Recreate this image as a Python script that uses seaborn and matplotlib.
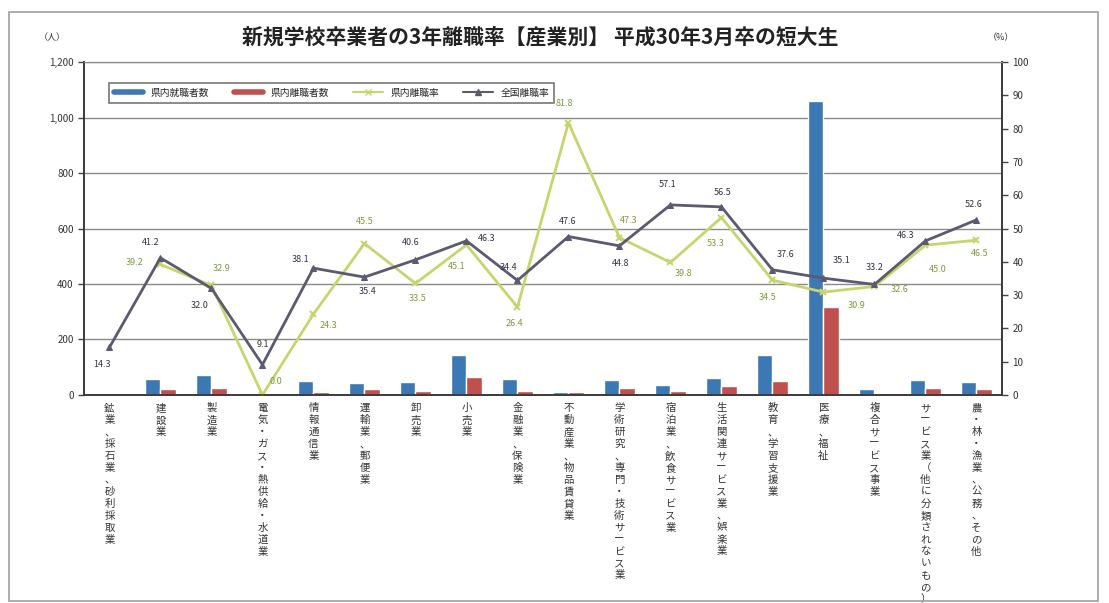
import numpy as np
import pandas as pd
import matplotlib
matplotlib.use("Agg")
import matplotlib.pyplot as plt
from matplotlib.patches import Rectangle
from matplotlib.lines import Line2D
import seaborn as sns

# ---- data -------------------------------------------------------------
industries = [
    "鉱業、採石業、砂利採取業", "建設業", "製造業", "電気・ガス・熱供給・水道業",
    "情報通信業", "運輸業、郵便業", "卸売業", "小売業", "金融業、保険業",
    "不動産業、物品賃貸業", "学術研究、専門・技術サービス業", "宿泊業、飲食サービス業",
    "生活関連サービス業、娯楽業", "教育、学習支援業", "医療、福祉", "複合サービス事業",
    "サービス業（他に分類されないもの）", "農・林・漁業、公務、その他",
]
employed = [0, 57, 73, 2, 50, 44, 45, 144, 57, 11, 53, 36, 62, 145, 1058, 20, 55, 48]
separated = [0, 23, 24, 0, 12, 20, 15, 65, 15, 9, 25, 14, 33, 50, 318, 6, 25, 22]
pref_rate = [np.nan, 39.2, 32.9, 0.0, 24.3, 45.5, 33.5, 45.1, 26.4, 81.8,
             47.3, 39.8, 53.3, 34.5, 30.9, 32.6, 45.0, 46.5]
national_rate = [14.3, 41.2, 32.0, 9.1, 38.1, 35.4, 40.6, 46.3, 34.4, 47.6,
                 44.8, 57.1, 56.5, 37.6, 35.1, 33.2, 46.3, 52.6]
series_names = ["県内就職者数", "県内離職者数", "県内離職率", "全国離職率"]
left_ticks = [0, 200, 400, 600, 800, 1000, 1200]
right_ticks = list(range(0, 101, 10))

# label offsets (pixels) for the rate annotations
pref_offsets = [None, (-26, 2), (10, 17), (13, 13), (15, -11), (0, 22), (2, -15),
                (-10, -22), (-3, -16), (-4, 19), (9, 17), (13, -11), (-6, -26),
                (-5, -17), (33, -13), (25, -3), (12, -24), (3, -13)]
nat_offsets = [(-7, -17), (-10, 15), (-12, -17), (0, 20), (-13, 9), (3, -14),
               (-5, 17), (20, 2), (-9, 13), (-1, 15), (1, -18), (-3, 20),
               (1, 14), (13, 15), (18, 18), (0, 17), (-20, 5), (-3, 15)]

BLUE = "#3c78b4"
RED = "#c0504d"
GREEN = "#c8d46e"
DARK = "#5a5a70"

sns.set_style("white")
plt.rcParams["font.family"] = ["Noto Sans CJK JP", "DejaVu Sans"]

bars = pd.DataFrame({
    "industry": industries * 2,
    "count": employed + separated,
    "series": [series_names[0]] * len(industries) + [series_names[1]] * len(industries),
})

fig = plt.figure(figsize=(11.09, 6.03), dpi=100)
ax = fig.add_axes([0.0757, 0.345, 0.8278, 0.552])

sns.barplot(data=bars, x="industry", y="count", hue="series", order=industries,
            hue_order=series_names[:2], palette=[BLUE, RED], width=0.6,
            saturation=1, ax=ax, legend=False)
ax.set_xlim(-0.5, len(industries) - 0.5)
ax.set_ylim(0, 1200)
ax.set_yticks(left_ticks)
ax.set_yticklabels([f"{v:,}" for v in left_ticks], fontsize=7, color="#333333")
ax.yaxis.grid(True, color="#8a8a8a", lw=1)
ax.set_axisbelow(True)
ax.set_xlabel("")
ax.set_ylabel("")
ax.tick_params(axis="y", direction="out", length=4, width=1, color="#444444", left=True)
ax.tick_params(axis="x", length=0, pad=6)
ax.set_xticks(range(len(industries)))
ax.set_xticklabels(["\n".join(name) for name in industries], fontsize=7.5,
                   linespacing=1.24, va="top", color="#333333")

ax2 = ax.twinx()
pos = np.arange(len(industries))
sns.lineplot(x=pos, y=pref_rate, ax=ax2, color=GREEN, lw=2, marker="x",
             markersize=5, markeredgewidth=1.5, markeredgecolor=GREEN)
sns.lineplot(x=pos, y=national_rate, ax=ax2, color=DARK, lw=2, marker="^",
             markersize=5, markeredgecolor=DARK)
ax2.set_ylim(0, 100)
ax2.set_yticks(right_ticks)
ax2.set_yticklabels([str(v) for v in right_ticks], fontsize=7, color="#333333")
ax2.tick_params(axis="y", direction="out", length=4, width=1, color="#444444", right=True)
ax2.set_ylabel("")

for a in (ax, ax2):
    for side in ("left", "right", "bottom"):
        a.spines[side].set_color("#3a3a3a")
        a.spines[side].set_linewidth(1.2)
    a.spines["top"].set_color("#8a8a8a")

for i, v in enumerate(pref_rate):
    if np.isnan(v):
        continue
    dx, dy = pref_offsets[i]
    ax2.annotate(f"{v:.1f}", (i, v), xytext=(dx, dy), textcoords="offset pixels",
                 ha="center", va="center", fontsize=6.5, color="#7f9a3c")
for i, v in enumerate(national_rate):
    dx, dy = nat_offsets[i]
    ax2.annotate(f"{v:.1f}", (i, v), xytext=(dx, dy), textcoords="offset pixels",
                 ha="center", va="center", fontsize=6.5, color="#333344")

handles = [
    Line2D([], [], color=BLUE, lw=4),
    Line2D([], [], color=RED, lw=4),
    Line2D([], [], color=GREEN, lw=1.5, marker="x", markersize=4),
    Line2D([], [], color=DARK, lw=1.5, marker="^", markersize=4),
]
leg = ax2.legend(handles, series_names, loc="upper left", bbox_to_anchor=(0.022, 0.952),
                 ncol=4, fontsize=7, frameon=True, fancybox=False, handlelength=3,
                 columnspacing=2.5, borderpad=0.5)
leg.get_frame().set_edgecolor("#555555")
leg.get_frame().set_linewidth(1.2)

fig.text(0.487, 0.939, "新規学校卒業者の3年離職率【産業別】 平成30年3月卒の短大生",
         ha="center", va="center", fontsize=15, fontweight="bold", color="#222222")
fig.text(0.047, 0.937, "（人）", ha="center", va="center", fontsize=6.5, color="#333333")
fig.text(0.903, 0.937, "（%）", ha="center", va="center", fontsize=6.5, color="#333333")

fig.patches.append(Rectangle((0.008, 0.004), 0.982, 0.976, transform=fig.transFigure,
                             fill=False, ec="#a0a0a0", lw=1.2))

fig.savefig("out.png", dpi=100)
